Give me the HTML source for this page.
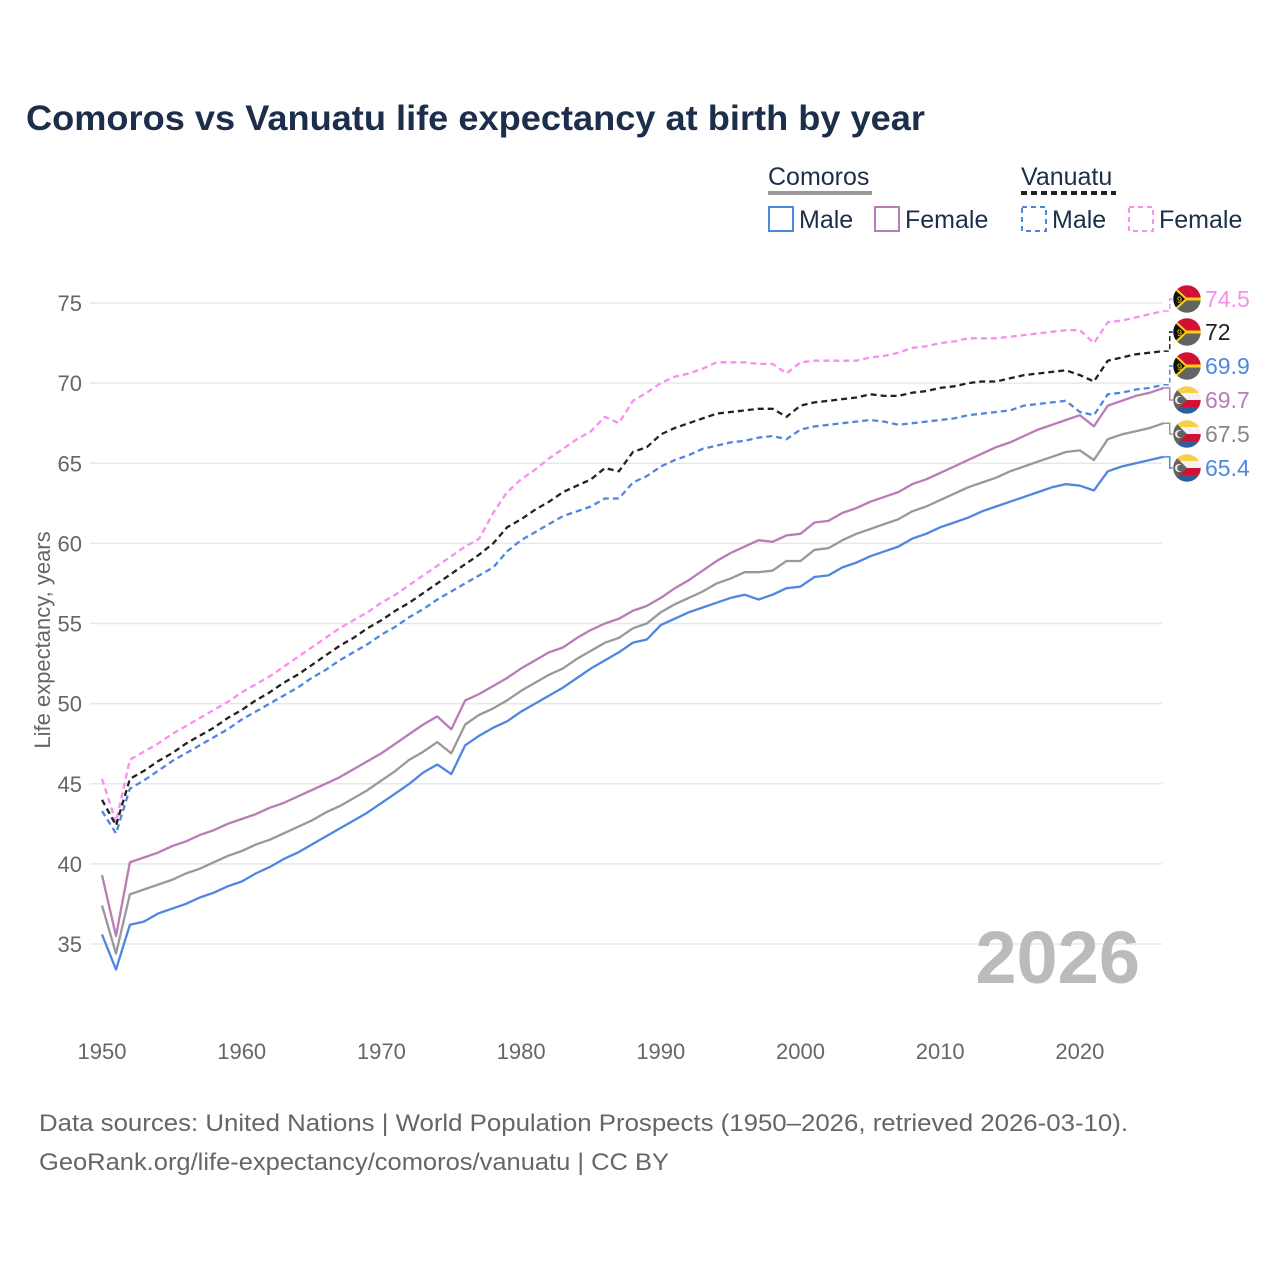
<!DOCTYPE html>
<html><head><meta charset="utf-8"><style>
body{margin:0;background:#fff;}
svg text{font-family:"Liberation Sans",sans-serif;}
</style></head><body>
<svg width="1280" height="1280" viewBox="0 0 1280 1280" xmlns="http://www.w3.org/2000/svg">
<defs>
<clipPath id="cc"><circle cx="0" cy="0" r="14"/></clipPath>
</defs>
<text x="26" y="130" font-size="35" font-weight="bold" fill="#1c2e4a" textLength="899" lengthAdjust="spacingAndGlyphs">Comoros vs Vanuatu life expectancy at birth by year</text>
<g>
<text x="768" y="185" font-size="25" fill="#1c2e4a">Comoros</text>
<line x1="768" y1="193" x2="872" y2="193" stroke="#999" stroke-width="4"/>
<text x="1021" y="185" font-size="25" fill="#1c2e4a">Vanuatu</text>
<line x1="1021" y1="193" x2="1116" y2="193" stroke="#222" stroke-width="4" stroke-dasharray="6,4"/>
<g><rect x="769" y="207" width="24" height="24" fill="none" stroke="#4f86e0" stroke-width="2"/><text x="799" y="228" font-size="25" fill="#1c2e4a">Male</text></g>
<g><rect x="875" y="207" width="24" height="24" fill="none" stroke="#b87cb7" stroke-width="2"/><text x="905" y="228" font-size="25" fill="#1c2e4a">Female</text></g>
<g><rect x="1022" y="207" width="24" height="24" fill="none" stroke="#4f86e0" stroke-width="2" stroke-dasharray="5,4"/><text x="1052" y="228" font-size="25" fill="#1c2e4a">Male</text></g>
<g><rect x="1129" y="207" width="24" height="24" fill="none" stroke="#f98ef0" stroke-width="2" stroke-dasharray="5,4"/><text x="1159" y="228" font-size="25" fill="#1c2e4a">Female</text></g>
</g>
<g id="grid"></g>
<text x="1140" y="983" font-size="74" font-weight="bold" fill="#bbbbbb" text-anchor="end">2026</text>
<g id="series"></g>
<g id="labels"></g>
<text transform="translate(50,640) rotate(-90)" font-size="22" fill="#666" text-anchor="middle">Life expectancy, years</text>
<text x="39" y="1131" font-size="24" fill="#666" textLength="1089" lengthAdjust="spacingAndGlyphs">Data sources: United Nations | World Population Prospects (1950–2026, retrieved 2026-03-10).</text>
<text x="39" y="1170" font-size="24" fill="#666" textLength="630" lengthAdjust="spacingAndGlyphs">GeoRank.org/life-expectancy/comoros/vanuatu | CC BY</text>
</svg>
<script>
const startYear = 1950;
const xTicks = [1950,1960,1970,1980,1990,2000,2010,2020];
const yTicks = [35,40,45,50,55,60,65,70,75];
const comorosMale = [35.6,33.4,36.2,36.4,36.9,37.2,37.5,37.9,38.2,38.6,38.9,39.4,39.8,40.3,40.7,41.2,41.7,42.2,42.7,43.2,43.8,44.4,45.0,45.7,46.2,45.6,47.4,48.0,48.5,48.9,49.5,50.0,50.5,51.0,51.6,52.2,52.7,53.2,53.8,54.0,54.9,55.3,55.7,56.0,56.3,56.6,56.8,56.5,56.8,57.2,57.3,57.9,58.0,58.5,58.8,59.2,59.5,59.8,60.3,60.6,61.0,61.3,61.6,62.0,62.3,62.6,62.9,63.2,63.5,63.7,63.6,63.3,64.5,64.8,65.0,65.2,65.4];
const comorosFemale = [39.3,35.5,40.1,40.4,40.7,41.1,41.4,41.8,42.1,42.5,42.8,43.1,43.5,43.8,44.2,44.6,45.0,45.4,45.9,46.4,46.9,47.5,48.1,48.7,49.2,48.4,50.2,50.6,51.1,51.6,52.2,52.7,53.2,53.5,54.1,54.6,55.0,55.3,55.8,56.1,56.6,57.2,57.7,58.3,58.9,59.4,59.8,60.2,60.1,60.5,60.6,61.3,61.4,61.9,62.2,62.6,62.9,63.2,63.7,64.0,64.4,64.8,65.2,65.6,66.0,66.3,66.7,67.1,67.4,67.7,68.0,67.3,68.6,68.9,69.2,69.4,69.7];
const comorosTotal = [37.4,34.4,38.1,38.4,38.7,39.0,39.4,39.7,40.1,40.5,40.8,41.2,41.5,41.9,42.3,42.7,43.2,43.6,44.1,44.6,45.2,45.8,46.5,47.0,47.6,46.9,48.7,49.3,49.7,50.2,50.8,51.3,51.8,52.2,52.8,53.3,53.8,54.1,54.7,55.0,55.7,56.2,56.6,57.0,57.5,57.8,58.2,58.2,58.3,58.9,58.9,59.6,59.7,60.2,60.6,60.9,61.2,61.5,62.0,62.3,62.7,63.1,63.5,63.8,64.1,64.5,64.8,65.1,65.4,65.7,65.8,65.2,66.5,66.8,67.0,67.2,67.5];
const vanuatuMale = [43.3,41.9,44.7,45.2,45.8,46.4,46.9,47.4,47.9,48.4,49.0,49.5,50.0,50.5,51.0,51.6,52.1,52.7,53.2,53.7,54.3,54.8,55.4,55.9,56.5,57.0,57.5,58.0,58.5,59.5,60.2,60.7,61.2,61.7,62.0,62.3,62.8,62.8,63.8,64.2,64.8,65.2,65.5,65.9,66.1,66.3,66.4,66.6,66.7,66.5,67.1,67.3,67.4,67.5,67.6,67.7,67.6,67.4,67.5,67.6,67.7,67.8,68.0,68.1,68.2,68.3,68.6,68.7,68.8,68.9,68.2,68.0,69.3,69.4,69.6,69.7,69.9];
const vanuatuFemale = [45.3,42.6,46.5,47.0,47.5,48.1,48.6,49.1,49.6,50.1,50.7,51.2,51.7,52.3,52.9,53.5,54.1,54.7,55.2,55.7,56.3,56.8,57.4,58.0,58.6,59.2,59.8,60.3,61.9,63.2,64.0,64.6,65.3,65.9,66.5,67.0,67.9,67.5,68.9,69.4,70.0,70.4,70.6,70.9,71.3,71.3,71.3,71.2,71.2,70.6,71.3,71.4,71.4,71.4,71.4,71.6,71.7,71.9,72.2,72.3,72.5,72.6,72.8,72.8,72.8,72.9,73.0,73.1,73.2,73.3,73.3,72.5,73.8,73.9,74.1,74.3,74.5];
const vanuatuTotal = [44.0,42.4,45.3,45.8,46.4,46.9,47.5,48.0,48.5,49.1,49.6,50.2,50.7,51.3,51.8,52.4,53.0,53.6,54.1,54.7,55.2,55.8,56.3,56.9,57.5,58.1,58.7,59.3,60.0,61.0,61.5,62.1,62.6,63.2,63.6,64.0,64.7,64.5,65.7,66.0,66.8,67.2,67.5,67.8,68.1,68.2,68.3,68.4,68.4,67.9,68.6,68.8,68.9,69.0,69.1,69.3,69.2,69.2,69.4,69.5,69.7,69.8,70.0,70.1,70.1,70.3,70.5,70.6,70.7,70.8,70.5,70.1,71.4,71.6,71.8,71.9,72.0];

const NS="http://www.w3.org/2000/svg";
function xS(yr){return 102+(yr-1950)*13.97;}
function yS(v){return 303+(75-v)*16.025;}
const grid=document.getElementById('grid');
yTicks.forEach(t=>{
  const l=document.createElementNS(NS,'line');
  l.setAttribute('x1',90);l.setAttribute('x2',1162);l.setAttribute('y1',yS(t));l.setAttribute('y2',yS(t));
  l.setAttribute('stroke','#e8e8e8');l.setAttribute('stroke-width','1.5');
  
  
  grid.appendChild(l);
  const tx=document.createElementNS(NS,'text');
  tx.setAttribute('x',82);tx.setAttribute('y',yS(t)+8);tx.setAttribute('text-anchor','end');
  tx.setAttribute('font-size','22');tx.setAttribute('fill','#666');tx.textContent=t;
  
  
  grid.appendChild(tx);
});
xTicks.forEach(t=>{
  const tx=document.createElementNS(NS,'text');
  tx.setAttribute('x',xS(t));tx.setAttribute('y',1059);tx.setAttribute('text-anchor','middle');
  tx.setAttribute('font-size','22');tx.setAttribute('fill','#666');tx.textContent=t;
  
  
  grid.appendChild(tx);
});
const series=[
 {d:vanuatuFemale,c:'#f98ef0',dash:'6,4',n:'vanuatu-female',ly:299,flag:'v'},
 {d:vanuatuTotal,c:'#222',dash:'6,4',n:'vanuatu-total',ly:332,flag:'v'},
 {d:vanuatuMale,c:'#4f86e0',dash:'6,4',n:'vanuatu-male',ly:366,flag:'v'},
 {d:comorosFemale,c:'#b87cb7',dash:null,n:'comoros-female',ly:400,flag:'c'},
 {d:comorosTotal,c:'#999',dash:null,n:'comoros-total',ly:434,flag:'c'},
 {d:comorosMale,c:'#4f86e0',dash:null,n:'comoros-male',ly:468,flag:'c'}
];
const sg=document.getElementById('series'), lg=document.getElementById('labels');
const labCol={'vanuatu-total':'#222','comoros-total':'#888'};
series.forEach(s=>{
  const pts=s.d.map((v,i)=>xS(startYear+i).toFixed(1)+','+yS(v).toFixed(1)).join(' ');
  const p=document.createElementNS(NS,'polyline');
  p.setAttribute('points',pts);p.setAttribute('fill','none');p.setAttribute('stroke',s.c);
  p.setAttribute('stroke-width','2.3');p.setAttribute('stroke-linejoin','round');
  if(s.dash)p.setAttribute('stroke-dasharray',s.dash);
  
  
  sg.appendChild(p);
  const last=s.d[s.d.length-1], xe=xS(startYear+s.d.length-1), ye=yS(last);
  const c=document.createElementNS(NS,'path');
  c.setAttribute('d',`M${xe},${ye} H${xe+6} V${s.ly} H${xe+12}`);
  c.setAttribute('fill','none');c.setAttribute('stroke',s.c);c.setAttribute('stroke-width','1.5');
  if(s.dash)c.setAttribute('stroke-dasharray','5,3');
  
  
  lg.appendChild(c);
  const g=document.createElementNS(NS,'g');
  g.setAttribute('transform',`translate(1187,${s.ly})`);
  
  
  let inner;
  if(s.flag==='v'){
    inner=`<g clip-path="url(#cc)"><rect x="-14" y="-14" width="28" height="14" fill="#d21034"/><rect x="-14" y="0" width="28" height="14" fill="#62655f"/><rect x="-14" y="-1.5" width="28" height="3" fill="#fdce12"/><polygon points="-14,-14 1,0 -14,14" fill="#fdce12"/><polygon points="-14,-11 -2,0 -14,11" fill="#111"/><text x="-10" y="4" font-size="9" fill="#fdce12">9</text></g>`;
  } else {
    inner=`<g clip-path="url(#cc)"><rect x="-14" y="-14" width="28" height="7" fill="#f8d047"/><rect x="-14" y="-7" width="28" height="7" fill="#f2f2f2"/><rect x="-14" y="0" width="28" height="7" fill="#d21034"/><rect x="-14" y="7" width="28" height="7" fill="#2e5d9e"/><polygon points="-14,-14 0,0 -14,14" fill="#62655f"/><circle cx="-8" cy="0" r="4" fill="#eee"/><circle cx="-6.5" cy="0" r="3.3" fill="#62655f"/></g>`;
  }
  g.innerHTML=inner+'<circle r="14" fill="none" stroke="#fff" stroke-width="0.5"/>';
  lg.appendChild(g);
  const t=document.createElementNS(NS,'text');
  t.setAttribute('x',1205);t.setAttribute('y',s.ly+8);t.setAttribute('font-size','23');
  t.setAttribute('fill',labCol[s.n]||s.c);t.textContent=String(last);
  
  
  lg.appendChild(t);
});
</script>
</body></html>
